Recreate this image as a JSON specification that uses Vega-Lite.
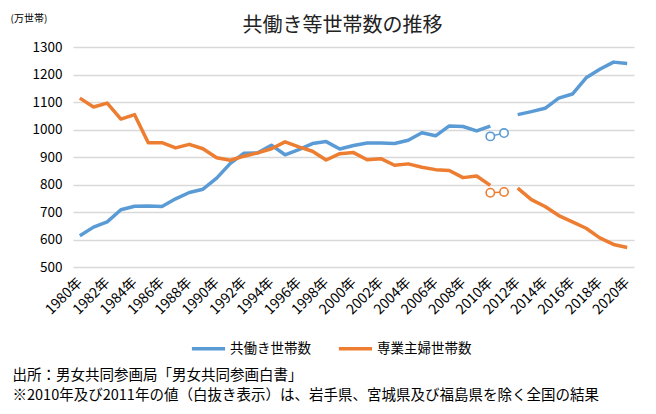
{
  "$schema": "https://vega.github.io/schema/vega-lite/v6.json",
  "width": 561,
  "height": 220,
  "autosize": {"type": "none"},
  "padding": {"left": 73, "top": 47, "right": 22, "bottom": 147},
  "background": "white",
  "config": {"font": "Noto Sans CJK JP", "view": {"stroke": null}},
  "title": {"text": "共働き等世帯数の推移", "fontSize": 20, "fontWeight": "normal", "color": "#222222", "anchor": "middle", "dx": -11, "offset": -23},
  "datasets": {
    "main": [
      {"year": 1980, "series": "共働き世帯数", "period": "A", "value": 614},
      {"year": 1981, "series": "共働き世帯数", "period": "A", "value": 645},
      {"year": 1982, "series": "共働き世帯数", "period": "A", "value": 664},
      {"year": 1983, "series": "共働き世帯数", "period": "A", "value": 708},
      {"year": 1984, "series": "共働き世帯数", "period": "A", "value": 721},
      {"year": 1985, "series": "共働き世帯数", "period": "A", "value": 722},
      {"year": 1986, "series": "共働き世帯数", "period": "A", "value": 720},
      {"year": 1987, "series": "共働き世帯数", "period": "A", "value": 748},
      {"year": 1988, "series": "共働き世帯数", "period": "A", "value": 771},
      {"year": 1989, "series": "共働き世帯数", "period": "A", "value": 783},
      {"year": 1990, "series": "共働き世帯数", "period": "A", "value": 823},
      {"year": 1991, "series": "共働き世帯数", "period": "A", "value": 877},
      {"year": 1992, "series": "共働き世帯数", "period": "A", "value": 914},
      {"year": 1993, "series": "共働き世帯数", "period": "A", "value": 915},
      {"year": 1994, "series": "共働き世帯数", "period": "A", "value": 943},
      {"year": 1995, "series": "共働き世帯数", "period": "A", "value": 908},
      {"year": 1996, "series": "共働き世帯数", "period": "A", "value": 927},
      {"year": 1997, "series": "共働き世帯数", "period": "A", "value": 949},
      {"year": 1998, "series": "共働き世帯数", "period": "A", "value": 956},
      {"year": 1999, "series": "共働き世帯数", "period": "A", "value": 929},
      {"year": 2000, "series": "共働き世帯数", "period": "A", "value": 942},
      {"year": 2001, "series": "共働き世帯数", "period": "A", "value": 951},
      {"year": 2002, "series": "共働き世帯数", "period": "A", "value": 951},
      {"year": 2003, "series": "共働き世帯数", "period": "A", "value": 949},
      {"year": 2004, "series": "共働き世帯数", "period": "A", "value": 961},
      {"year": 2005, "series": "共働き世帯数", "period": "A", "value": 988},
      {"year": 2006, "series": "共働き世帯数", "period": "A", "value": 977},
      {"year": 2007, "series": "共働き世帯数", "period": "A", "value": 1013},
      {"year": 2008, "series": "共働き世帯数", "period": "A", "value": 1011},
      {"year": 2009, "series": "共働き世帯数", "period": "A", "value": 995},
      {"year": 2010, "series": "共働き世帯数", "period": "A", "value": 1012},
      {"year": 2012, "series": "共働き世帯数", "period": "B", "value": 1054},
      {"year": 2013, "series": "共働き世帯数", "period": "B", "value": 1065},
      {"year": 2014, "series": "共働き世帯数", "period": "B", "value": 1077},
      {"year": 2015, "series": "共働き世帯数", "period": "B", "value": 1114},
      {"year": 2016, "series": "共働き世帯数", "period": "B", "value": 1129},
      {"year": 2017, "series": "共働き世帯数", "period": "B", "value": 1188},
      {"year": 2018, "series": "共働き世帯数", "period": "B", "value": 1219},
      {"year": 2019, "series": "共働き世帯数", "period": "B", "value": 1245},
      {"year": 2020, "series": "共働き世帯数", "period": "B", "value": 1240},
      {"year": 1980, "series": "専業主婦世帯数", "period": "A", "value": 1114},
      {"year": 1981, "series": "専業主婦世帯数", "period": "A", "value": 1082},
      {"year": 1982, "series": "専業主婦世帯数", "period": "A", "value": 1096},
      {"year": 1983, "series": "専業主婦世帯数", "period": "A", "value": 1038},
      {"year": 1984, "series": "専業主婦世帯数", "period": "A", "value": 1054},
      {"year": 1985, "series": "専業主婦世帯数", "period": "A", "value": 952},
      {"year": 1986, "series": "専業主婦世帯数", "period": "A", "value": 952},
      {"year": 1987, "series": "専業主婦世帯数", "period": "A", "value": 933},
      {"year": 1988, "series": "専業主婦世帯数", "period": "A", "value": 946},
      {"year": 1989, "series": "専業主婦世帯数", "period": "A", "value": 930},
      {"year": 1990, "series": "専業主婦世帯数", "period": "A", "value": 897},
      {"year": 1991, "series": "専業主婦世帯数", "period": "A", "value": 888},
      {"year": 1992, "series": "専業主婦世帯数", "period": "A", "value": 903},
      {"year": 1993, "series": "専業主婦世帯数", "period": "A", "value": 915},
      {"year": 1994, "series": "専業主婦世帯数", "period": "A", "value": 930},
      {"year": 1995, "series": "専業主婦世帯数", "period": "A", "value": 955},
      {"year": 1996, "series": "専業主婦世帯数", "period": "A", "value": 937},
      {"year": 1997, "series": "専業主婦世帯数", "period": "A", "value": 921},
      {"year": 1998, "series": "専業主婦世帯数", "period": "A", "value": 889},
      {"year": 1999, "series": "専業主婦世帯数", "period": "A", "value": 912},
      {"year": 2000, "series": "専業主婦世帯数", "period": "A", "value": 916},
      {"year": 2001, "series": "専業主婦世帯数", "period": "A", "value": 890},
      {"year": 2002, "series": "専業主婦世帯数", "period": "A", "value": 894},
      {"year": 2003, "series": "専業主婦世帯数", "period": "A", "value": 870},
      {"year": 2004, "series": "専業主婦世帯数", "period": "A", "value": 875},
      {"year": 2005, "series": "専業主婦世帯数", "period": "A", "value": 863},
      {"year": 2006, "series": "専業主婦世帯数", "period": "A", "value": 854},
      {"year": 2007, "series": "専業主婦世帯数", "period": "A", "value": 851},
      {"year": 2008, "series": "専業主婦世帯数", "period": "A", "value": 825},
      {"year": 2009, "series": "専業主婦世帯数", "period": "A", "value": 831},
      {"year": 2010, "series": "専業主婦世帯数", "period": "A", "value": 797},
      {"year": 2012, "series": "専業主婦世帯数", "period": "B", "value": 787},
      {"year": 2013, "series": "専業主婦世帯数", "period": "B", "value": 745},
      {"year": 2014, "series": "専業主婦世帯数", "period": "B", "value": 720},
      {"year": 2015, "series": "専業主婦世帯数", "period": "B", "value": 687},
      {"year": 2016, "series": "専業主婦世帯数", "period": "B", "value": 664},
      {"year": 2017, "series": "専業主婦世帯数", "period": "B", "value": 641},
      {"year": 2018, "series": "専業主婦世帯数", "period": "B", "value": 606},
      {"year": 2019, "series": "専業主婦世帯数", "period": "B", "value": 582},
      {"year": 2020, "series": "専業主婦世帯数", "period": "B", "value": 571}
    ],
    "hollow": [
      {"year": 2010, "series": "共働き世帯数", "value": 975},
      {"year": 2011, "series": "共働き世帯数", "value": 987},
      {"year": 2010, "series": "専業主婦世帯数", "value": 770},
      {"year": 2011, "series": "専業主婦世帯数", "value": 773}
    ]
  },
  "encoding": {
    "x": {
      "field": "year", "type": "quantitative",
      "scale": {"domain": [1979.5, 2020.5], "nice": false, "zero": false},
      "axis": {
        "values": [1980, 1982, 1984, 1986, 1988, 1990, 1992, 1994, 1996, 1998, 2000, 2002, 2004, 2006, 2008, 2010, 2012, 2014, 2016, 2018, 2020],
        "labelExpr": "datum.value + '年'",
        "labelAngle": -45, "labelAlign": "right", "labelBaseline": "middle",
        "labelPadding": 13, "labelFontSize": 14, "labelColor": "#000000",
        "labelOverlap": false, "labelFlush": false, "labelBound": false, "labelSeparation": 0,
        "ticks": false, "domain": false, "grid": false,
        "title": ["出所：男女共同参画局「男女共同参画白書」", "※2010年及び2011年の値（白抜き表示）は、岩手県、宮城県及び福島県を除く全国の結果"],
        "titleX": -61, "titleY": 108, "titleAlign": "left", "titleAnchor": "start", "titleBaseline": "middle",
        "titleFontSize": 14.5, "titleFontWeight": "normal", "titleLineHeight": 20, "titleColor": "#000000"
      }
    },
    "y": {
      "field": "value", "type": "quantitative",
      "scale": {"domain": [500, 1300], "nice": false, "zero": false},
      "axis": {
        "values": [500, 600, 700, 800, 900, 1000, 1100, 1200, 1300],
        "format": "d",
        "grid": true, "gridColor": "#d9d9d9", "gridWidth": 1.3,
        "ticks": false, "domain": false,
        "labelOverlap": false, "labelSeparation": 0,
        "labelPadding": 11, "labelFontSize": 13.5, "labelColor": "#000000",
        "title": "(万世帯)", "titleAngle": 0, "titleX": -63, "titleY": -29,
        "titleAlign": "left", "titleBaseline": "middle", "titleFontSize": 10,
        "titleFontWeight": "normal", "titleColor": "#000000"
      }
    },
    "color": {
      "field": "series", "type": "nominal",
      "scale": {"domain": ["共働き世帯数", "専業主婦世帯数"], "range": ["#5b9bd5", "#ed7d31"]},
      "legend": {
        "orient": "none", "legendX": 117, "legendY": 283, "direction": "horizontal",
        "title": null, "symbolType": "stroke", "symbolStrokeWidth": 3.5, "symbolSize": 1100,
        "labelFontSize": 13.5, "labelColor": "#000000", "columnPadding": 20, "labelOffset": 3
      }
    }
  },
  "layer": [
    {
      "data": {"name": "main"},
      "mark": {"type": "line", "strokeWidth": 3.5, "strokeJoin": "round", "strokeCap": "butt"},
      "encoding": {
        "detail": {"field": "period"}
      }
    },
    {
      "data": {"name": "hollow"},
      "mark": {"type": "line", "strokeWidth": 1.5},
      "encoding": {}
    },
    {
      "data": {"name": "hollow"},
      "mark": {"type": "point", "shape": "circle", "filled": false, "fill": "white", "strokeWidth": 1.6, "size": 70, "opacity": 1},
      "encoding": {}
    }
  ]
}
